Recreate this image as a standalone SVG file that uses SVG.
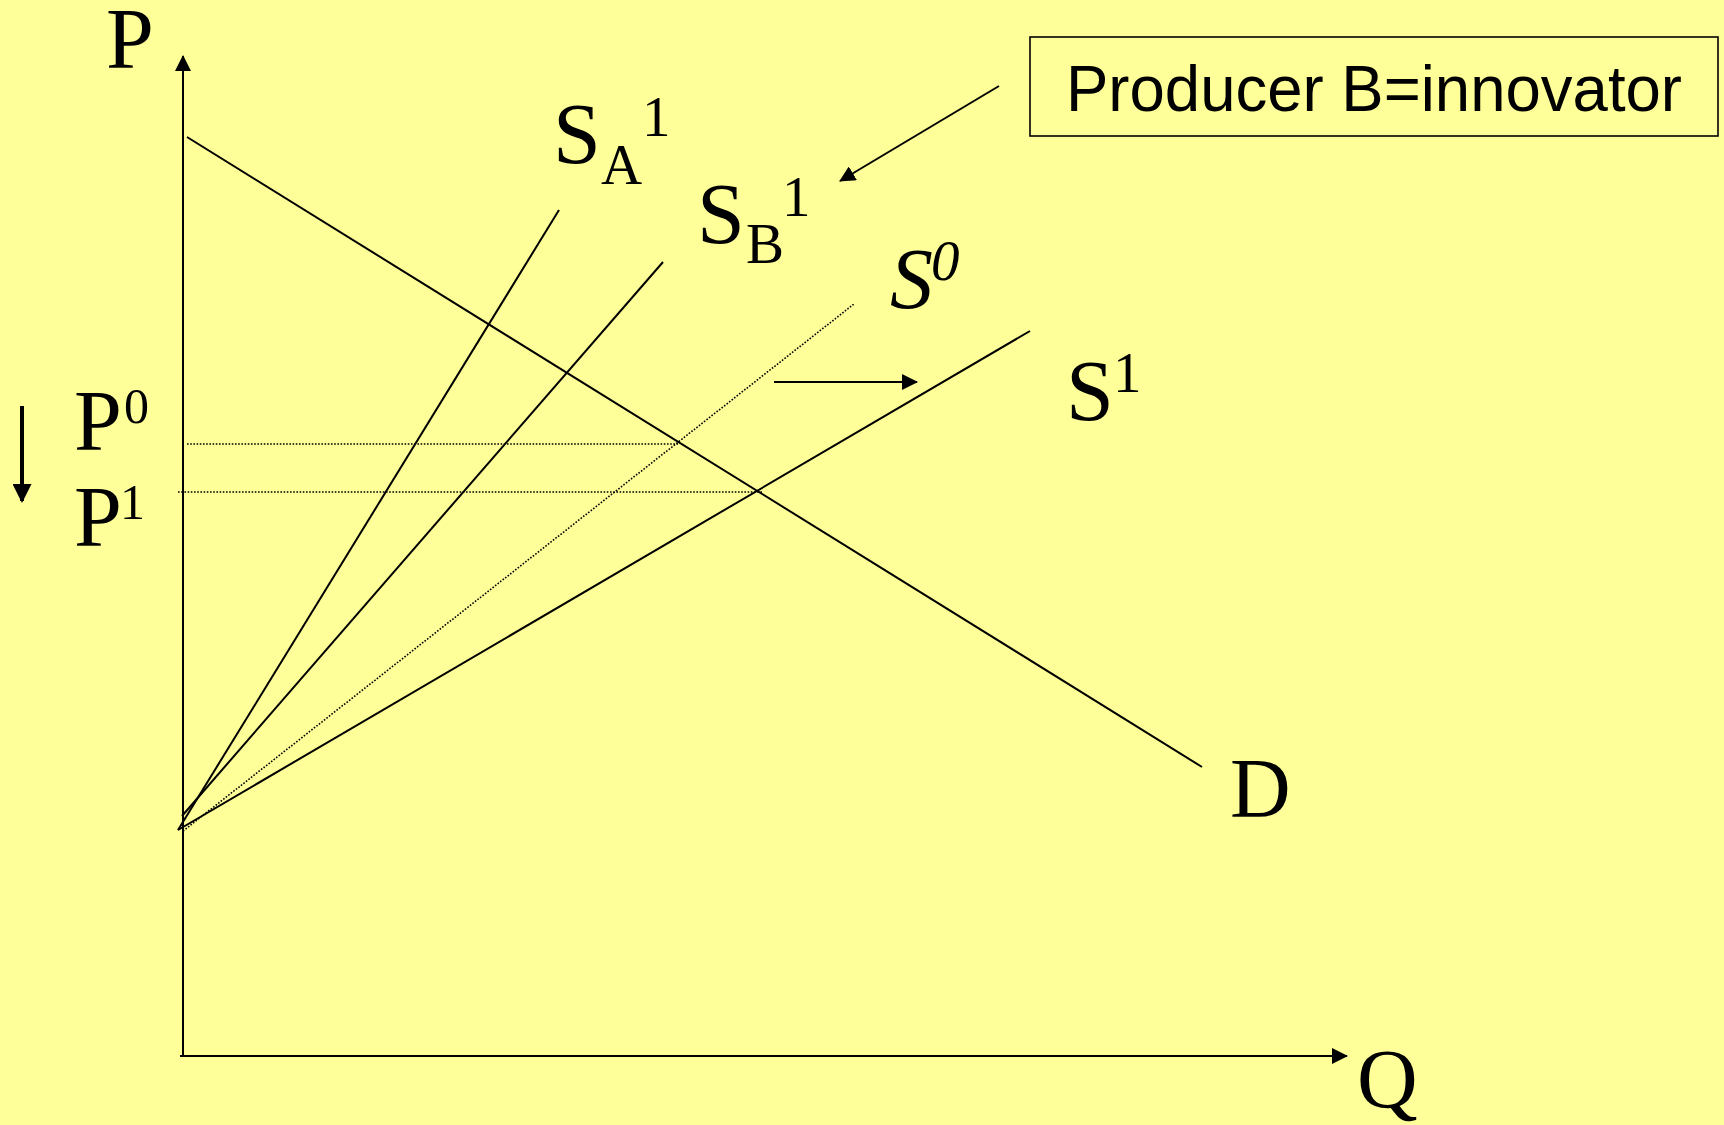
<svg xmlns="http://www.w3.org/2000/svg" width="1724" height="1125" viewBox="0 0 1724 1125">
<defs>
<style>
.ln{stroke:#000;stroke-width:2;fill:none}
.dot{stroke:#000;stroke-width:1.6;stroke-dasharray:1.6 1.6;fill:none}
.t{font-family:"Liberation Serif","Times New Roman",serif;fill:#000}
.big{font-size:86px}
.sm{font-size:57px}
.ps{font-size:50px}
.it{font-style:italic}
</style>
<marker id="ah" markerUnits="userSpaceOnUse" markerWidth="16" markerHeight="16" refX="15" refY="8" orient="auto" viewBox="0 0 16 16">
<path d="M0,0 L16,8 L0,16 z" fill="#000"/>
</marker>
<marker id="ahb" markerUnits="userSpaceOnUse" markerWidth="19" markerHeight="19" refX="17" refY="9.5" orient="auto" viewBox="0 0 19 19">
<path d="M0,0 L19,9.5 L0,19 z" fill="#000"/>
</marker>
</defs>
<rect width="1724" height="1125" fill="#FFFF99"/>
<g id="connectors">
<line id="p-axis" class="ln" x1="183" y1="1056" x2="183" y2="56" marker-end="url(#ah)"/>
<line id="q-axis" class="ln" x1="180" y1="1056" x2="1347" y2="1056" marker-end="url(#ah)"/>
<line id="demand" class="ln" x1="187" y1="137" x2="1202" y2="767"/>
<line id="sa1" class="ln" x1="178" y1="830" x2="559" y2="210"/>
<line id="sb1" class="ln" x1="182" y1="816" x2="663" y2="262"/>
<line id="s0" class="dot" x1="183" y1="831" x2="854" y2="304"/>
<line id="s1" class="ln" x1="178" y1="830" x2="1030" y2="331"/>
<line id="p0-line" class="dot" x1="187" y1="444" x2="678" y2="444"/>
<line id="p1-line" class="dot" x1="178" y1="492" x2="763" y2="492"/>
<line id="shift-arrow" class="ln" x1="774" y1="382" x2="917" y2="382" marker-end="url(#ah)"/>
<line id="price-arrow" stroke="#000" stroke-width="4" x1="22" y1="406" x2="22" y2="501" marker-end="url(#ahb)"/>
<line id="note-arrow" class="ln" x1="999" y1="86" x2="840" y2="181" marker-end="url(#ah)"/>
</g>
<g id="label-P"><text class="t big" x="106" y="68">P</text></g>
<g id="label-Q"><text class="t" font-size="84" x="1357" y="1108">Q</text></g>
<g id="label-D"><text class="t" font-size="84" x="1230" y="817">D</text></g>
<g id="label-P0"><text class="t big" x="74" y="450">P</text><text class="t ps" x="124" y="423">0</text></g>
<g id="label-P1"><text class="t big" x="74" y="546">P</text><text class="t ps" x="120" y="519">1</text></g>
<g id="label-SA1"><text class="t big" x="553" y="163">S</text><text class="t sm" x="601" y="184">A</text><text class="t sm" x="642" y="136">1</text></g>
<g id="label-SB1"><text class="t big" x="697" y="243">S</text><text class="t sm" x="746" y="263">B</text><text class="t sm" x="782" y="216">1</text></g>
<g id="label-S0"><text class="t big it" x="890" y="308">S</text><text class="t sm it" x="931" y="280">0</text></g>
<g id="label-S1"><text class="t big" x="1066" y="420">S</text><text class="t sm" x="1113" y="392">1</text></g>
<g id="note-box">
<rect x="1030" y="37" width="688" height="99" fill="none" stroke="#000" stroke-width="1.6"/>
<text x="1066" y="111" font-family="'Liberation Sans',Arial,sans-serif" font-size="64" textLength="616" lengthAdjust="spacingAndGlyphs">Producer B=innovator</text>
</g>
</svg>
